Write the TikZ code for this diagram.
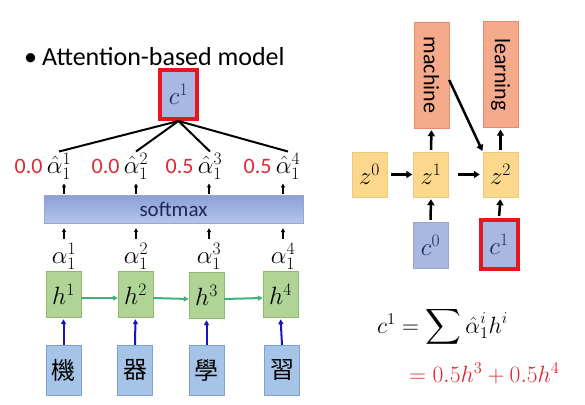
\RequirePackage{fix-cm}
\documentclass[tikz,border=0pt]{standalone}
\usepackage{exscale}
\usepackage[no-math]{fontspec}
\setmainfont{Carlito}
\newfontfamily\cjk{Noto Sans CJK TC}
\usetikzlibrary{arrows.meta,positioning}
\definecolor{cblue}{RGB}{168,184,224}
\definecolor{cink}{RGB}{30,40,90}
\definecolor{cred}{RGB}{232,20,30}
\definecolor{hgreen}{RGB}{176,212,150}
\definecolor{hgreenline}{RGB}{140,185,110}
\definecolor{garrow}{RGB}{60,180,120}
\definecolor{barrow}{RGB}{20,20,190}
\definecolor{wblue}{RGB}{166,196,232}
\definecolor{wblueline}{RGB}{130,160,205}
\definecolor{zyellow}{RGB}{253,216,140}
\definecolor{zyellowline}{RGB}{240,200,125}
\definecolor{osalmon}{RGB}{245,170,140}
\definecolor{osalmonline}{RGB}{225,140,110}
\definecolor{smtop}{RGB}{140,160,215}
\definecolor{smbottom}{RGB}{180,196,236}
\definecolor{smline}{RGB}{150,165,210}
\definecolor{numred}{RGB}{222,40,50}
\begin{document}
\begin{tikzpicture}[x=1pt,y=-1pt,
   every node/.style={inner sep=0pt},
   big/.style={font=\fontsize{25}{29}\selectfont},
   lab/.style={big,inner sep=1pt},
   num/.style={font=\fontsize{22}{26}\selectfont,text=numred},
   ctxt/.style={big,fill=cblue,text=cink,draw=cred,line width=4pt,minimum width=37pt,minimum height=49pt},
   cin/.style={big,fill=cblue,text=cink,draw=smline,minimum width=35pt,minimum height=46pt},
   hidden/.style={big,fill=hgreen,draw=hgreenline,minimum width=35pt,minimum height=46pt},
   word/.style={font=\cjk\fontsize{24}{28}\selectfont,fill=wblue,draw=wblueline,minimum width=35pt,minimum height=50pt},
   zstate/.style={big,fill=zyellow,draw=zyellowline,minimum width=35pt,minimum height=45pt},
   outword/.style={font=\fontsize{22}{26}\selectfont,fill=osalmon,draw=osalmonline,minimum width=35pt,minimum height=106pt},
   weight/.style={line width=2pt,black},
   small arrow/.style={line width=1.3pt,-{Triangle[length=4pt,width=4pt]}},
   flow/.style={line width=2.5pt,-{Triangle[length=6pt,width=7pt]}},
   eq/.style={font=\fontsize{23.5}{28}\selectfont,anchor=base west}]
\useasboundingbox (0,0) rectangle (585,404);
\node[anchor=base west,font=\fontsize{26}{30}\selectfont] (title) at (24,65) {\textbullet\hspace{5pt}Attention-based model};
\node[ctxt] (c1) at (178.5,94.5) {$c^1$};
\node[lab] (ah1) at (59,166) {$\hat{\alpha}_1^1$};
\node[lab] (ah2) at (136,166) {$\hat{\alpha}_1^2$};
\node[lab] (ah3) at (210,166) {$\hat{\alpha}_1^3$};
\node[lab] (ah4) at (288,166) {$\hat{\alpha}_1^4$};
\node[num,left=3pt of ah1] (w1val) {0.0};
\node[num,left=3pt of ah2] (w2val) {0.0};
\node[num,left=3pt of ah3] (w3val) {0.5};
\node[num,left=3pt of ah4] (w4val) {0.5};
\node[font=\fontsize{21}{25}\selectfont,text=cink,top color=smtop,bottom color=smbottom,draw=smline,
   minimum width=259pt,minimum height=28pt] (sm) at (173.5,209) {softmax};
\node[lab] (a1) at (64,256) {$\alpha_1^1$};
\node[lab] (a2) at (136,256) {$\alpha_1^2$};
\node[lab] (a3) at (209,256) {$\alpha_1^3$};
\node[lab] (a4) at (283,256) {$\alpha_1^4$};
\node[hidden] (h1) at (63.5,294) {$h^1$};
\node[hidden] (h2) at (135.5,294) {$h^2$};
\node[hidden] (h3) at (206.5,295) {$h^3$};
\node[hidden] (h4) at (280.5,294) {$h^4$};
\node[word] (x1) at (63.5,370) {機};
\node[word] (x2) at (135,370) {器};
\node[word] (x3) at (206.5,370) {學};
\node[word] (x4) at (282,370) {習};
\draw[weight] (c1.south) -- (ah1.north);
\draw[weight] (c1.south) -- (ah2.north);
\draw[weight] (c1.south) -- (ah3.north);
\draw[weight] (c1.south) -- (ah4.north);
\draw[small arrow,shorten <=1pt,shorten >=3pt] (a1 |- sm.north) -- (a1 |- ah1.south);
\draw[small arrow,shorten <=1pt,shorten >=3pt] (a2 |- sm.north) -- (a2 |- ah2.south);
\draw[small arrow,shorten <=1pt,shorten >=3pt] (a3 |- sm.north) -- (a3 |- ah3.south);
\draw[small arrow,shorten <=1pt,shorten >=3pt] (a4 |- sm.north) -- (a4 |- ah4.south);
\draw[small arrow,shorten <=3pt,shorten >=5pt] (a1.north) -- (a1 |- sm.south);
\draw[small arrow,shorten <=3pt,shorten >=5pt] (a2.north) -- (a2 |- sm.south);
\draw[small arrow,shorten <=3pt,shorten >=5pt] (a3.north) -- (a3 |- sm.south);
\draw[small arrow,shorten <=3pt,shorten >=5pt] (a4.north) -- (a4 |- sm.south);
\draw[garrow,line width=2pt,-{Triangle[length=5pt,width=5pt]}] ([yshift=-4pt]h1.east) -- ([yshift=-4pt]h2.west);
\draw[garrow,line width=2pt,-{Triangle[length=5pt,width=5pt]}] ([yshift=-4pt]h2.east) -- ([yshift=-4pt]h3.west);
\draw[garrow,line width=2pt,-{Triangle[length=5pt,width=5pt]}] ([yshift=-4pt]h3.east) -- ([yshift=-4pt]h4.west);
\draw[barrow,line width=2pt,-{Triangle[length=5pt,width=5pt]},shorten >=2pt] (x1.north) -- (h1.south);
\draw[barrow,line width=2pt,-{Triangle[length=5pt,width=5pt]},shorten >=2pt] (x2.north) -- (h2.south);
\draw[barrow,line width=2pt,-{Triangle[length=5pt,width=5pt]},shorten >=2pt] (x3.north) -- (h3.south);
\draw[barrow,line width=2pt,-{Triangle[length=5pt,width=5pt]},shorten >=2pt] (x4.north) -- (h4.south);
\node[outword] (machine) at (431.5,75) {\rotatebox{-90}{machine}};
\node[outword] (learning) at (500.5,74.5) {\rotatebox{-90}{learning}};
\node[zstate] (z0) at (369.5,174.5) {$z^0$};
\node[zstate] (z1) at (431,174.5) {$z^1$};
\node[zstate] (z2) at (500.5,174.5) {$z^2$};
\node[cin] (c0) at (430.5,245) {$c^0$};
\node[ctxt] (c1r) at (499,244.5) {$c^1$};
\draw[flow,shorten <=4pt,shorten >=1pt] (z0.east) -- (z1.west);
\draw[flow,shorten <=9pt,shorten >=3pt] (z1.east) -- (z2.west);
\draw[flow,shorten <=2pt,shorten >=2pt] (z1.north) -- (machine.south);
\draw[flow,shorten <=2pt,shorten >=2pt] (z2.north) -- (learning.south);
\draw[flow,shorten <=2pt,shorten >=2pt] (c0.north) -- (z1.south);
\draw[flow,shorten <=2pt,shorten >=2pt] (c1r.north) -- (z2.south);
\draw[flow,shorten >=1pt] ([yshift=-5pt]machine.east) -- (z2.north west);
\node[eq] (sumline) at (377,333) {$c^1=\displaystyle\sum\hat{\alpha}_1^i h^i$};
\node[eq,text=numred] (resline) at (409,382) {$=0.5h^3+0.5h^4$};
\end{tikzpicture}
\end{document}
